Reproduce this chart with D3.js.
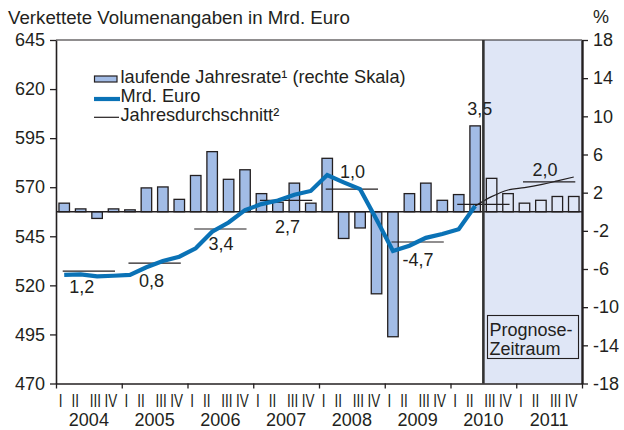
<!DOCTYPE html>
<html>
<head>
<meta charset="utf-8">
<script src="https://cdn.jsdelivr.net/npm/d3@7"></script>
<style>
  html, body { margin: 0; padding: 0; background: #fff; }
  svg { display: block; font-family: "Liberation Sans", Arial, Helvetica, sans-serif; }
</style>
</head>
<body>
<svg id="chart" width="624" height="430"></svg>
<script>
// Quarterly GDP (chained volumes, bn EUR) with annualised quarterly growth rates
const years = [2004, 2005, 2006, 2007, 2008, 2009, 2010, 2011];
const quarterNames = ["I", "II", "III", "IV"];

// laufende Jahresrate, % (right scale), 2004 I – 2011 IV
const rate = [
   0.9,  0.3, -0.7,  0.3,
   0.2,  2.5,  2.6,  1.3,
   3.8,  6.3,  3.4,  4.4,
   1.9,  1.0,  3.0,  0.9,
   5.6, -2.8, -1.7, -8.6,
 -13.1,  1.9,  3.0,  1.2,
   1.8,  9.0,  3.5,  1.9,
   0.9,  1.2,  1.6,  1.6
];

// Mrd. Euro, observed 2004 I – 2010 II
const volume = [
  525.3, 525.6, 524.6, 524.9,
  525.3, 529.2, 532.4, 534.6,
  538.9, 547.3, 552.0, 558.3,
  561.4, 563.2, 566.2, 568.1,
  576.2, 572.5, 569.0, 553.5,
  537.5, 540.2, 544.2, 546.2,
  548.6, 560.4
];

// Mrd. Euro, projection 2010 II – 2011 IV
const forecastVolume = [560.4, 565.2, 568.6, 569.8, 571.3, 573.2, 575.2];

// Jahresdurchschnitt: level (Mrd. Euro) and annual growth (%)
const annualVolume = [527.3, 531.3, 548.7, 563.3, 569.0, 542.1, 561.3, 572.7];
const annualRate = [1.2, 0.8, 3.4, 2.7, 1.0, -4.7, 3.5, 2.0];

const forecastStartIndex = 26; // 2010 III
const leftTicks = [470, 495, 520, 545, 570, 595, 620, 645];
const rightTicks = [-18, -14, -10, -6, -2, 2, 6, 10, 14, 18];

// label placement for the annual growth figures (px, relative to the year's average line)
const annualLabelDx = [-7, -3, 0.6, 1.4, 0.7, 0.5, -3.6, -4];
const annualLabelDy = [22, 24, 21, 32.6, -11, 24, -89, -6.3];
const quarterLabelDx = [-3.5, -5.5, -1.7, -2.7];

const svg = d3.select("#chart");
const ink = "#231f20";
const barFill = "#a2bce6";
const forecastFill = "#dfe6f6";
const lineBlue = "#0a72b6";

const plotLeft = 56, plotRight = 582, plotTop = 40, plotBottom = 383.5;

const keys = years.flatMap(y => quarterNames.map(q => `${y}-${q}`));
const x = d3.scaleBand().domain(keys).range([plotLeft, plotRight]).paddingInner(0.36).paddingOuter(0.18);
const xq = d3.scaleLinear().domain([0, keys.length]).range([plotLeft, plotRight]);
const xYear = d3.scaleLinear().domain([years[0], years[years.length - 1] + 1]).range([plotLeft, plotRight]);
const yL = d3.scaleLinear().domain([470, 645]).range([plotBottom, plotTop]);
const yR = d3.scaleLinear().domain([-18, 18]).range([plotBottom, plotTop]);
const cx = i => x(keys[i]) + x.bandwidth() / 2;

// forecast period shading
const fx = xq(forecastStartIndex);
svg.append("rect")
  .attr("x", fx).attr("y", plotTop)
  .attr("width", plotRight - fx).attr("height", plotBottom - plotTop)
  .attr("fill", forecastFill);

// top frame line
svg.append("line")
  .attr("x1", plotLeft).attr("x2", plotRight).attr("y1", plotTop).attr("y2", plotTop)
  .attr("stroke", ink).attr("stroke-width", 1.2);

// growth-rate bars
svg.append("g").selectAll("rect")
  .data(rate)
  .join("rect")
  .attr("x", (d, i) => x(keys[i]))
  .attr("width", x.bandwidth())
  .attr("y", d => yR(Math.max(0, d)))
  .attr("height", d => Math.abs(yR(d) - yR(0)))
  .attr("fill", (d, i) => i >= forecastStartIndex ? forecastFill : barFill)
  .attr("stroke", ink)
  .attr("stroke-width", 1.3);

// zero line of the right scale
svg.append("line")
  .attr("x1", plotLeft).attr("x2", plotRight).attr("y1", yR(0)).attr("y2", yR(0))
  .attr("stroke", ink).attr("stroke-width", 1.5);

// annual average lines
svg.append("g").selectAll("line")
  .data(annualVolume)
  .join("line")
  .attr("x1", (d, i) => cx(i * 4) - 1.5)
  .attr("x2", (d, i) => cx(i * 4 + 3) + 1.5)
  .attr("y1", d => yL(d)).attr("y2", d => yL(d))
  .attr("stroke", ink).attr("stroke-width", 1.2);

// projection line (thin)
const fStart = forecastStartIndex - 1;
svg.append("path")
  .datum(forecastVolume)
  .attr("fill", "none")
  .attr("stroke", ink).attr("stroke-width", 1.2)
  .attr("d", d3.line().x((d, i) => cx(fStart + i)).y(d => yL(d)).curve(d3.curveMonotoneX));

// observed volume line
svg.append("path")
  .datum(volume)
  .attr("fill", "none")
  .attr("stroke", lineBlue).attr("stroke-width", 4.2)
  .attr("stroke-linejoin", "miter")
  .attr("d", d3.line().x((d, i) => cx(i)).y(d => yL(d)));

// annual growth figures
const fmt = v => d3.format(".1f")(v).replace(".", ",").replace("\u2212", "-");
svg.append("g").selectAll("text")
  .data(annualRate)
  .join("text")
  .attr("x", (d, i) => xYear(years[i] + 0.5) + annualLabelDx[i])
  .attr("y", (d, i) => yL(annualVolume[i]) + annualLabelDy[i])
  .attr("text-anchor", "middle")
  .attr("font-size", 18)
  .attr("fill", ink)
  .text(fmt);

// forecast boundary
svg.append("line")
  .attr("x1", fx).attr("x2", fx).attr("y1", plotTop).attr("y2", plotBottom)
  .attr("stroke", "#333").attr("stroke-width", 2.6);

// left axis
const gL = svg.append("g").attr("transform", `translate(${plotLeft},0)`)
  .call(d3.axisLeft(yL).tickValues(leftTicks).tickSize(6).tickPadding(5).tickSizeOuter(0));
// right axis
const gR = svg.append("g").attr("transform", `translate(${plotRight},0)`)
  .call(d3.axisRight(yR).tickValues(rightTicks).tickSize(6).tickPadding(5).tickSizeOuter(0)
    .tickFormat(d => String(d)));
// bottom axis: year boundaries
const gB = svg.append("g").attr("transform", `translate(0,${plotBottom})`)
  .call(d3.axisBottom(xYear).tickValues(d3.range(years[0], years[years.length - 1] + 2))
    .tickSize(5).tickSizeOuter(0).tickFormat(""));

[gL, gR, gB].forEach(g => {
  g.selectAll("text").attr("font-size", 18).attr("fill", ink)
    .attr("font-family", "'Liberation Sans', Arial, sans-serif");
  g.selectAll("line").attr("stroke", ink).attr("stroke-width", 1.3);
  g.select(".domain").attr("stroke", ink).attr("stroke-width", 1.6);
});
gR.select(".domain").attr("stroke-width", 2.4);
gR.selectAll("text").attr("text-anchor", "start");

// quarter numerals (condensed) and year labels
const qLabels = svg.append("g");
keys.forEach((k, i) => {
  const qi = i % 4;
  qLabels.append("text")
    .attr("transform", `translate(${cx(i) + quarterLabelDx[qi]},407) scale(0.77,1)`)
    .attr("text-anchor", "middle")
    .attr("font-size", 17.5)
    .attr("fill", ink)
    .text(quarterNames[qi]);
});
svg.append("g").selectAll("text")
  .data(years)
  .join("text")
  .attr("x", d => xYear(d + 0.5))
  .attr("y", 426)
  .attr("text-anchor", "middle")
  .attr("font-size", 18)
  .attr("fill", ink)
  .text(d => d);

// titles
svg.append("text").attr("x", 8).attr("y", 24)
  .attr("font-size", 18.7).attr("fill", ink)
  .text("Verkettete Volumenangaben in Mrd. Euro");
svg.append("text").attr("x", 593).attr("y", 23)
  .attr("font-size", 18).attr("fill", ink)
  .text("%");

// legend
const lg = svg.append("g").attr("transform", "translate(94,0)");
lg.append("rect").attr("x", 0.5).attr("y", 76).attr("width", 22.5).attr("height", 6)
  .attr("fill", barFill).attr("stroke", ink).attr("stroke-width", 1.2);
lg.append("line").attr("x1", 0).attr("x2", 26).attr("y1", 99).attr("y2", 99)
  .attr("stroke", lineBlue).attr("stroke-width", 4.2);
lg.append("line").attr("x1", 0).attr("x2", 25).attr("y1", 117.3).attr("y2", 117.3)
  .attr("stroke", ink).attr("stroke-width", 1.2);
const legendItems = ["laufende Jahresrate\u00B9 (rechte Skala)", "Mrd. Euro", "Jahresdurchschnitt\u00B2"];
lg.selectAll("text.item")
  .data(legendItems)
  .join("text")
  .attr("class", "item")
  .attr("x", 26.5)
  .attr("y", (d, i) => 83 + i * 19.2)
  .attr("font-size", 18.2)
  .attr("fill", ink)
  .text(d => d);

// forecast period note
const nb = svg.append("g");
nb.append("rect").attr("x", 487.5).attr("y", 315.5).attr("width", 91).attr("height", 43)
  .attr("fill", forecastFill).attr("stroke", ink).attr("stroke-width", 1.1);
nb.append("text").attr("x", 489.5).attr("y", 335.5).attr("font-size", 18).attr("fill", ink).text("Prognose-");
nb.append("text").attr("x", 489.5).attr("y", 354.5).attr("font-size", 18).attr("fill", ink).text("Zeitraum");
</script>
</body>
</html>
